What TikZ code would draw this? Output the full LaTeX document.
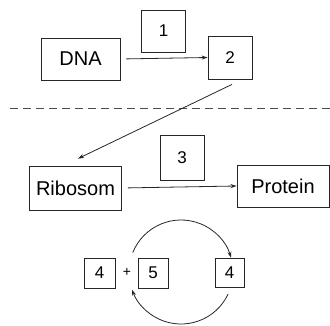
\documentclass[tikz,border=0pt]{standalone}
\usepackage{fontspec}
\setmainfont{Liberation Sans}
\usetikzlibrary{arrows.meta}
\begin{document}
\begin{tikzpicture}[x=1pt,y=1pt,
  box/.style={draw=black!85,line width=0.8pt,inner sep=0pt,align=center,font=\fontsize{20}{22}\selectfont},
  numbox/.style={draw=black!85,line width=0.8pt,inner sep=0pt,align=center,font=\fontsize{17}{19}\selectfont},
  conn/.style={draw=black!85,line width=0.8pt,-{Stealth[length=6pt,width=4pt]}},
  sep/.style={draw=black!70,line width=0.8pt,dash pattern=on 8pt off 5pt}]
\useasboundingbox (0,0) rectangle (330,325);
\node[box,minimum width=79pt,minimum height=42pt] (dna) at (80.5,266) {DNA};
\node[numbox,minimum width=44pt,minimum height=42pt] (n1) at (163.5,294) {1};
\node[numbox,minimum width=44pt,minimum height=43pt] (n2) at (230,267.5) {2};
\node[box,minimum width=92pt,minimum height=44pt] (rib) at (75.5,137) {Ribosom};
\node[numbox,minimum width=44pt,minimum height=45pt] (n3) at (182,167.5) {3};
\node[box,minimum width=92pt,minimum height=42pt] (prot) at (283,139) {Protein};
\node[numbox,minimum width=31pt,minimum height=30pt] (n4a) at (99.5,52) {4};
\node[font=\fontsize{14}{16}\selectfont] (plus) at (127,53) {+};
\node[numbox,minimum width=30pt,minimum height=30pt] (n5) at (153,52) {5};
\node[numbox,minimum width=29pt,minimum height=29pt] (n4b) at (229.5,52.5) {4};
\coordinate (dl) at (10,217);
\coordinate (dr) at (330,217);
\draw[sep] (dl) -- (dr);
\draw[conn,shorten <=6pt] (dna.east) -- (n2.west);
\draw[conn] ([shift={(2,-5)}]n2.south) -- ([shift={(2.5,7)}]rib.north);
\draw[conn,shorten <=6pt] (rib.east) -- (prot.west);
\coordinate (cc) at (181,53);
\draw[conn] ([shift={(158:52)}]cc) arc[start angle=158,end angle=16,radius=52];
\draw[conn] ([shift={(-25:52)}]cc) arc[start angle=-25,end angle=-160,radius=52];
\end{tikzpicture}
\end{document}
